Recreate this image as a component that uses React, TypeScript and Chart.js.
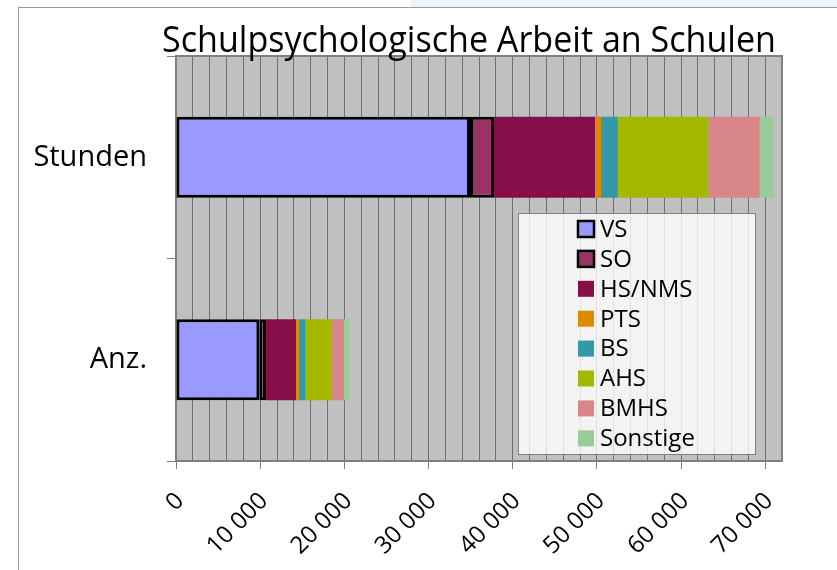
import React, { useEffect, useRef } from 'react';
import { Chart, registerables } from 'chart.js';

Chart.register(...registerables);

const TITLE = 'Schulpsychologische Arbeit an Schulen';
const categories = ['Stunden', 'Anz.'];
const seriesLabels = ['VS', 'SO', 'HS/NMS', 'PTS', 'BS', 'AHS', 'BMHS', 'Sonstige'];
const vsValues = [34930, 9900];
const soValues = [2850, 790];
const hsNmsValues = [12000, 3570];
const ptsValues = [710, 320];
const bsValues = [2000, 780];
const ahsValues = [10760, 3060];
const bmhsValues = [6090, 1540];
const sonstigeValues = [1710, 590];
const seriesColors = ['#9999FF', '#993366', '#860F4A', '#DC8A00', '#3399A8', '#A5B800', '#D8868A', '#99CC9C'];
const borderedSeries = [true, true, false, false, false, false, false, false];
const X_MAX = 72000;
const X_GRID_STEP = 2000;
const X_LABEL_STEP = 10000;

const FONT = "'Open Sans', 'Noto Sans', sans-serif";

const fmt = (v: number) => String(v).replace(/\B(?=(\d{3})+(?!\d))/g, ' ');

const plotBgPlugin = {
  id: 'plotBg',
  beforeDraw(chart: any) {
    const { ctx, chartArea: a } = chart;
    ctx.save();
    ctx.fillStyle = '#C0C0C0';
    ctx.fillRect(a.left, a.top, a.right - a.left, a.bottom - a.top);
    ctx.restore();
  },
  beforeDatasetsDraw(chart: any) {
    const { ctx, chartArea: a } = chart;
    ctx.save();
    ctx.strokeStyle = '#808080';
    ctx.lineWidth = 2;
    ctx.beginPath();
    ctx.moveTo(a.left, a.top);
    ctx.lineTo(a.right, a.top);
    ctx.lineTo(a.right, a.bottom);
    ctx.stroke();
    ctx.restore();
  },
};

const titlePlugin = {
  id: 'condensedTitle',
  afterDraw(chart: any) {
    const { ctx, chartArea: a } = chart;
    ctx.save();
    ctx.font = `36px ${FONT}`;
    ctx.fillStyle = '#000';
    ctx.textBaseline = 'alphabetic';
    ctx.textAlign = 'center';
    const w = ctx.measureText(TITLE).width;
    const target = 614;
    const sx = Math.min(1, target / w);
    const cx = (a.left + a.right) / 2 - 10;
    ctx.translate(cx, 52);
    ctx.scale(sx, 1);
    ctx.fillText(TITLE, 0, 0);
    ctx.restore();
  },
};

const legendPlugin = {
  id: 'insideLegend',
  afterDatasetsDraw(chart: any) {
    const { ctx } = chart;
    const box = { x: 518, y: 213, w: 237, h: 241 };
    ctx.save();
    ctx.fillStyle = 'rgba(255,255,255,0.8)';
    ctx.fillRect(box.x, box.y, box.w, box.h);
    ctx.strokeStyle = '#808080';
    ctx.lineWidth = 1;
    ctx.strokeRect(box.x + 0.5, box.y + 0.5, box.w, box.h);
    ctx.font = `24px ${FONT}`;
    ctx.textBaseline = 'middle';
    ctx.textAlign = 'left';
    chart.data.datasets.forEach((ds: any, i: number) => {
      const cy = box.y + 16 + i * 29.9;
      const sw = 16;
      const sxp = box.x + 60;
      ctx.fillStyle = ds.backgroundColor;
      ctx.fillRect(sxp, cy - sw / 2, sw, sw);
      if (ds.borderWidth > 0) {
        ctx.strokeStyle = '#000';
        ctx.lineWidth = 2.5;
        ctx.strokeRect(sxp, cy - sw / 2, sw, sw);
      }
      ctx.fillStyle = '#000';
      ctx.fillText(ds.label, sxp + 22, cy + 1);
    });
    ctx.restore();
  },
};

function BarChart() {
  const ref = useRef<HTMLCanvasElement | null>(null);
  useEffect(() => {
    if (!ref.current) return;
    const seriesData = [vsValues, soValues, hsNmsValues, ptsValues, bsValues, ahsValues, bmhsValues, sonstigeValues];
    const chart = new Chart(ref.current, {
      type: 'bar',
      data: {
        labels: categories,
        datasets: seriesLabels.map((label, i) => ({
          label,
          data: seriesData[i],
          backgroundColor: seriesColors[i],
          borderColor: '#000000',
          borderWidth: borderedSeries[i] ? 3 : 0,
          borderSkipped: false,
          categoryPercentage: 0.8,
          barPercentage: 0.5,
        })),
      },
      options: {
        indexAxis: 'y',
        animation: false,
        responsive: false,
        devicePixelRatio: 1,
        layout: { padding: { top: 56, right: 55, left: 0, bottom: 0 } },
        plugins: {
          legend: { display: false },
          title: { display: false },
          tooltip: { enabled: false },
        },
        scales: {
          x: {
            stacked: true,
            min: 0,
            max: X_MAX,
            afterFit: (s: any) => {
              s.height = 109;
            },
            afterBuildTicks: (s: any) => {
              const t = [];
              for (let v = 0; v <= X_MAX; v += X_GRID_STEP) t.push({ value: v });
              s.ticks = t;
            },
            ticks: {
              autoSkip: false,
              minRotation: 45,
              maxRotation: 45,
              padding: 18,
              labelOffset: 4,
              color: '#000',
              font: { family: FONT, size: 24 },
              callback: (v: any) => (Number(v) % X_LABEL_STEP === 0 ? fmt(Number(v)) : ''),
            },
            grid: {
              color: '#6f6f6f',
              lineWidth: 1,
              tickLength: 8,
              tickColor: (c: any) =>
                c.tick && c.tick.value % X_LABEL_STEP === 0 ? '#808080' : 'rgba(0,0,0,0)',
            },
            border: { color: '#808080', width: 2 },
          },
          y: {
            stacked: true,
            afterFit: (s: any) => {
              s.width = 176;
            },
            ticks: {
              color: '#000',
              padding: 20,
              font: { family: FONT, size: 29 },
            },
            grid: {
              drawOnChartArea: false,
              tickLength: 9,
              color: '#808080',
              offset: true,
            },
            border: { color: '#808080', width: 2 },
          },
        },
      },
      plugins: [plotBgPlugin, legendPlugin, titlePlugin],
    } as any);
    return () => chart.destroy();
  }, []);
  return <canvas ref={ref} width={837} height={570} style={{ position: 'absolute', left: 0, top: 0 }} />;
}

export default function App() {
  return (
    <div style={{ position: 'fixed', left: 0, top: 0, width: 837, height: 570, background: '#fff', overflow: 'hidden' }}>
      <div style={{ position: 'absolute', left: 411, top: 0, width: 426, height: 7, background: '#EEF3F7' }} />
      <div
        style={{
          position: 'absolute',
          left: 18,
          top: 7,
          right: 0,
          bottom: 0,
          borderLeft: '1px solid #9a9a9a',
          borderTop: '1px solid #9a9a9a',
        }}
      />
      <BarChart />
    </div>
  );
}
